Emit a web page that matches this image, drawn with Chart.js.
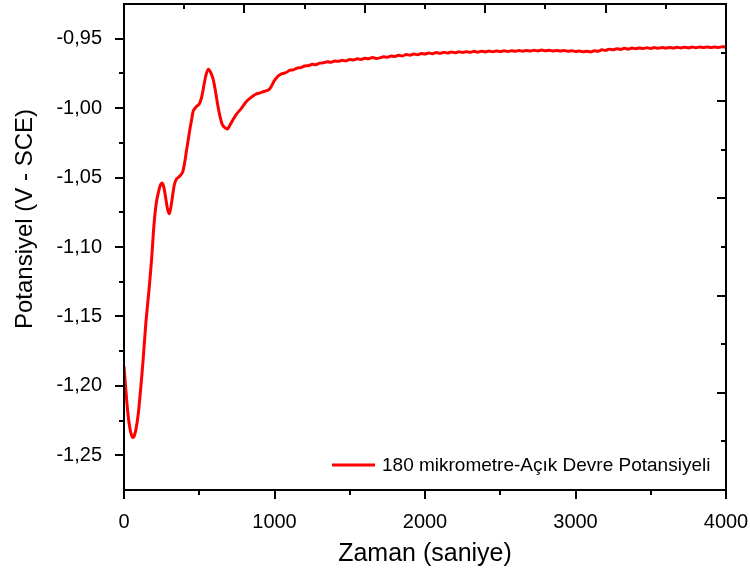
<!DOCTYPE html>
<html><head><meta charset="utf-8">
<script src="https://cdn.jsdelivr.net/npm/chart.js@4/dist/chart.umd.min.js"></script>
<style>html,body{margin:0;padding:0;background:#fff}#wrap{width:750px;height:574px;position:relative}</style>
</head><body><div id="wrap"><canvas id="c"></canvas></div>
<script>
const seriesLabel = '180 mikrometre-Açık Devre Potansiyeli';
const xTitle = 'Zaman (saniye)';
const yTitle = 'Potansiyel (V - SCE)';

const timeSeconds = [0,10,25,40,55,65,80,95,110,128,145,166,184,195,206,218,228,240,254,265,276,290,301,312,323,335,349,370,390,405,416,428,438,450,460,480,500,516,532,545,561,575,592,608,625,640,654,670,688,705,726,750,781,815,848,875,904,930,959,975,990,
1000,1025,1050,1075,1100,1125,1150,1175,1200,1225,1250,1275,1300,1325,1350,1375,1400,1425,1450,1475,1500,1525,1550,1575,1600,1625,1650,1675,1700,1725,1750,1775,1800,1825,1850,1875,1900,1925,1950,1975,
2000,2025,2050,2075,2100,2125,2150,2175,2200,2225,2250,2275,2300,2325,2350,2375,2400,2425,2450,2475,2500,2525,2550,2575,2600,2625,2650,2675,2700,2725,2750,2775,2800,2825,2850,2875,2900,2925,2950,2975,
3000,3025,3050,3075,3100,3125,3150,3175,3200,3225,3250,3275,3300,3325,3350,3375,3400,3425,3450,3475,3500,3525,3550,3575,3600,3625,3650,3675,3700,3725,3750,3775,3800,3825,3850,3875,3900,3925,3950,3975,4000];

const potentialV = [-1.186,-1.200,-1.219,-1.231,-1.237,-1.237,-1.231,-1.220,-1.203,-1.180,-1.155,-1.131,-1.108,-1.090,-1.076,-1.066,-1.061,-1.056,-1.054,-1.057,-1.064,-1.073,-1.076,-1.071,-1.063,-1.055,-1.051,-1.049,-1.046,-1.038,-1.030,-1.022,-1.015,-1.008,-1.002,-0.999,-0.997,-0.992,-0.983,-0.976,-0.972,-0.974,-0.979,-0.988,-0.999,-1.007,-1.012,-1.014,-1.015,-1.012,-1.008,-1.004,-1.000,-0.995,-0.992,-0.990,-0.989,-0.988,-0.987,-0.985,-0.982,
-0.9800,-0.9768,-0.9752,-0.9745,-0.9728,-0.9724,-0.9712,-0.9708,-0.9697,-0.9694,-0.9684,-0.9688,-0.9676,-0.9673,-0.9666,-0.9670,-0.9661,-0.9663,-0.9655,-0.9660,-0.9650,-0.9654,-0.9645,-0.9649,-0.9640,-0.9645,-0.9636,-0.9642,-0.9638,-0.9630,-0.9634,-0.9624,-0.9628,-0.9619,-0.9624,-0.9614,-0.9619,-0.9610,-0.9615,-0.9606,
-0.9610,-0.9603,-0.9608,-0.9600,-0.9605,-0.9598,-0.9603,-0.9596,-0.9601,-0.9594,-0.9599,-0.9593,-0.9598,-0.9591,-0.9597,-0.9590,-0.9595,-0.9589,-0.9594,-0.9588,-0.9593,-0.9587,-0.9592,-0.9586,-0.9591,-0.9585,-0.9590,-0.9584,-0.9589,-0.9583,-0.9588,-0.9582,-0.9587,-0.9583,-0.9588,-0.9584,-0.9589,-0.9585,-0.9591,-0.9586,
-0.9592,-0.9588,-0.9594,-0.9590,-0.9595,-0.9587,-0.9590,-0.9580,-0.9584,-0.9575,-0.9580,-0.9572,-0.9577,-0.9569,-0.9575,-0.9567,-0.9572,-0.9566,-0.9571,-0.9565,-0.9570,-0.9564,-0.9569,-0.9563,-0.9568,-0.9563,-0.9567,-0.9562,-0.9566,-0.9561,-0.9566,-0.9560,-0.9565,-0.9560,-0.9564,-0.9559,-0.9564,-0.9559,-0.9563,-0.9558,-0.9560];

const xMin = 0, xMax = 4000;
const yMin = -1.275, yMax = -0.925;
const xTickValues = [0,1000,2000,3000,4000];
const xMinorTickValues = [500,1500,2500,3500];
const yTickValues = [-0.95,-1.00,-1.05,-1.10,-1.15,-1.20,-1.25];
const yMinorTickValues = [-0.975,-1.025,-1.075,-1.125,-1.175,-1.225];
const topMajorTickValues = [800,1600,2400,3200];
const topMinorTickValues = [400,1200,2000,2800,3600];
const rightMajorTickValues = [-1.205,-1.135,-1.065,-0.995];
const rightMinorTickValues = [-1.24,-1.17,-1.10,-1.03,-0.96];

const FONT = "'Liberation Sans', Arial, sans-serif";

const framePlugin = {
  id: 'frame',
  afterDatasetsDraw(chart) {
    const {ctx, chartArea: a, scales: {x, y}} = chart;
    ctx.save();
    ctx.strokeStyle = '#000';
    ctx.lineWidth = 2;
    ctx.lineCap = 'butt';
    const seg = (x1, y1, x2, y2) => { ctx.beginPath(); ctx.moveTo(x1, y1); ctx.lineTo(x2, y2); ctx.stroke(); };
    const px = v => Math.round(x.getPixelForValue(v));
    const py = v => Math.round(y.getPixelForValue(v));
    yTickValues.forEach(v => seg(a.left - 9, py(v), a.left, py(v)));
    yMinorTickValues.forEach(v => seg(a.left - 5, py(v), a.left, py(v)));
    xTickValues.forEach(v => seg(px(v), a.bottom, px(v), a.bottom + 9));
    xMinorTickValues.forEach(v => seg(px(v), a.bottom, px(v), a.bottom + 5));
    topMajorTickValues.forEach(v => seg(px(v), a.top, px(v), a.top + 9));
    topMinorTickValues.forEach(v => seg(px(v), a.top, px(v), a.top + 5));
    rightMajorTickValues.forEach(v => seg(a.right - 9, py(v), a.right, py(v)));
    rightMinorTickValues.forEach(v => seg(a.right - 5, py(v), a.right, py(v)));
    ctx.strokeRect(Math.round(a.left), Math.round(a.top), Math.round(a.right - a.left), Math.round(a.bottom - a.top));
    ctx.restore();
  },
  afterDraw(chart) {
    const {ctx, chartArea: a} = chart;
    const ds = chart.data.datasets[0];
    ctx.save();
    // legend
    ctx.strokeStyle = ds.borderColor;
    ctx.lineWidth = 3;
    const ly = a.bottom - 25;
    ctx.beginPath(); ctx.moveTo(a.left + 208, ly); ctx.lineTo(a.left + 251, ly); ctx.stroke();
    ctx.fillStyle = '#000';
    ctx.font = '19px ' + FONT;
    ctx.textAlign = 'left';
    ctx.textBaseline = 'middle';
    ctx.fillText(ds.label, a.left + 258, ly + 1);
    // y title
    ctx.translate(25, 219);
    ctx.rotate(-Math.PI / 2);
    ctx.textAlign = 'center';
    ctx.font = '24px ' + FONT;
    ctx.fillText(yTitle, 0, 0);
    ctx.restore();
  }
};

const noPad = s => { s.paddingLeft = 0; s.paddingRight = 0; s.paddingTop = 0; s.paddingBottom = 0; };

const points = timeSeconds.map((t, i) => ({x: t, y: potentialV[i]}));

new Chart(document.getElementById('c'), {
  type: 'line',
  data: {
    datasets: [{
      label: seriesLabel,
      data: points,
      borderColor: '#ff0000',
      borderWidth: 3,
      pointRadius: 0,
      fill: false,
      tension: 0.25
    }]
  },
  options: {
    responsive: true,
    maintainAspectRatio: false,
    animation: false,
    layout: {padding: {left: 0, right: 24, top: 4, bottom: 0}},
    plugins: {legend: {display: false}, tooltip: {enabled: false}},
    scales: {
      x: {
        type: 'linear', min: xMin, max: xMax,
        grid: {display: false}, border: {display: false},
        afterBuildTicks: s => { s.ticks = xTickValues.map(v => ({value: v})); },
        afterFit: s => { s.height = 84; noPad(s); },
        ticks: {color: '#000', font: {family: FONT, size: 20}, padding: 12, maxRotation: 0, autoSkip: false,
          callback: v => String(v)},
        title: {display: true, text: xTitle, color: '#000', font: {family: FONT, size: 25}, padding: {top: 0, bottom: 5}}
      },
      y: {
        type: 'linear', min: yMin, max: yMax,
        grid: {display: false}, border: {display: false},
        afterBuildTicks: s => { s.ticks = yTickValues.map(v => ({value: v})); },
        afterFit: s => { s.width = 124; noPad(s); },
        ticks: {color: '#000', font: {family: FONT, size: 20}, padding: 14, autoSkip: false,
          callback: v => Number(v).toFixed(2).replace('.', ',')}
      }
    }
  },
  plugins: [framePlugin]
});
</script>
</body></html>
